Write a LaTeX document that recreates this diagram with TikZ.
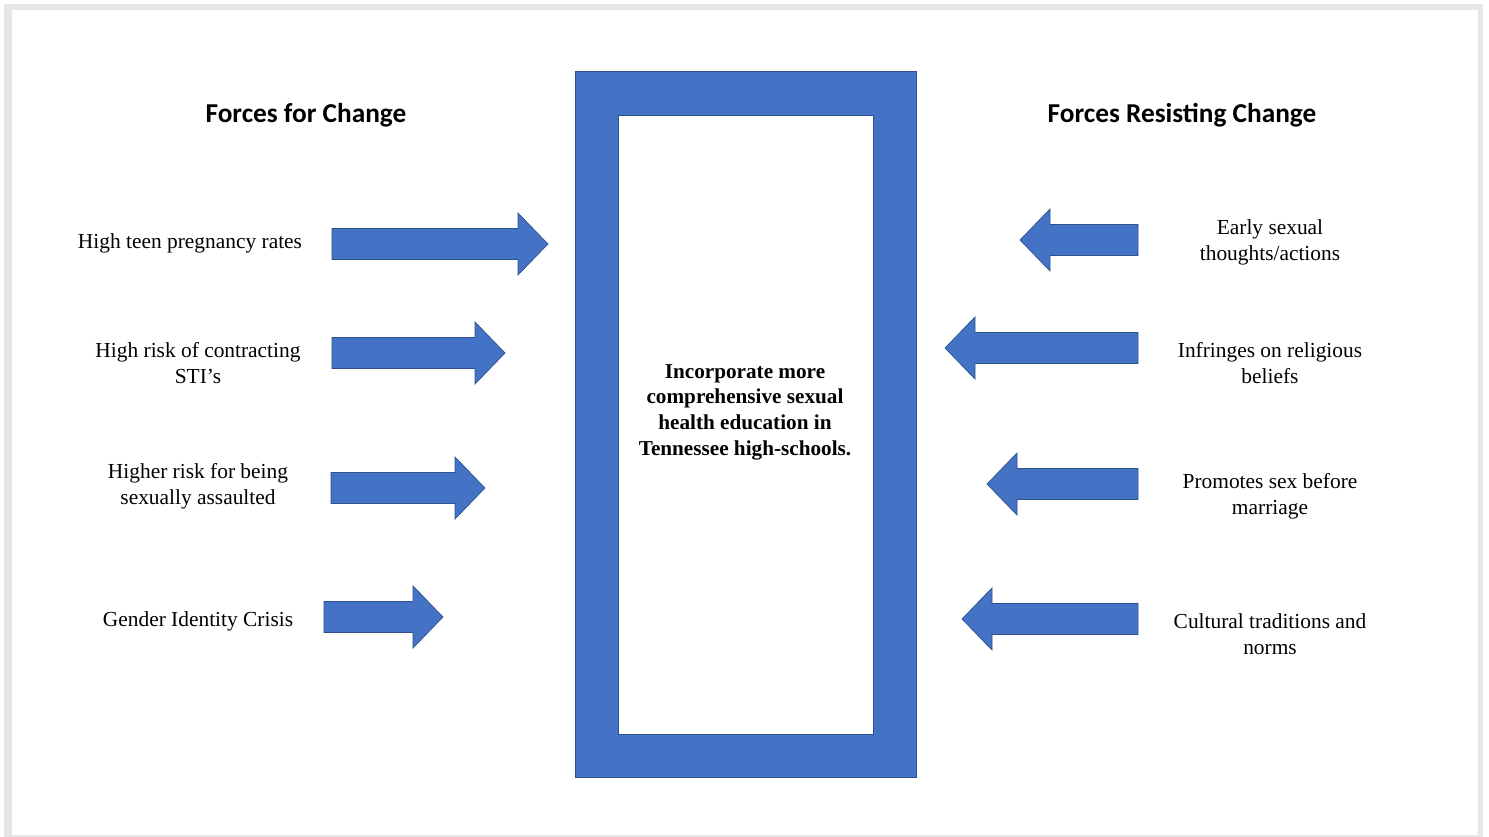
\documentclass[tikz,border=0pt]{standalone}
\usepackage{fontspec}
\setmainfont{Liberation Serif}
\newfontfamily\headfont{Carlito}

\definecolor{forceblue}{HTML}{4472C4}
\definecolor{forceedge}{HTML}{2F528F}
\definecolor{slidegray}{HTML}{E6E6E6}

\tikzset{
	force/.style={fill=forceblue, draw=forceedge, line width=0.7pt, line join=miter},
	forcelabel/.style={align=center, font=\fontsize{21.4}{26}\selectfont},
	heading/.style={font=\headfont\bfseries\fontsize{27.3}{32}\selectfont},
}

% block arrow: start x, tip x, centre y
\newcommand{\pushright}[3]{%
	\draw[force] (#1,#3-15.5) -- (#2-30,#3-15.5) -- (#2-30,#3-31) -- (#2,#3)
		-- (#2-30,#3+31) -- (#2-30,#3+15.5) -- (#1,#3+15.5) -- cycle;}
\newcommand{\pushleft}[3]{%
	\draw[force] (#1,#3-15.5) -- (#2+30,#3-15.5) -- (#2+30,#3-31) -- (#2,#3)
		-- (#2+30,#3+31) -- (#2+30,#3+15.5) -- (#1,#3+15.5) -- cycle;}

\begin{document}
\begin{tikzpicture}[x=1pt, y=-1pt]
	\useasboundingbox (0,0) rectangle (1489,837);
	
	% slide
	\fill[slidegray] (4,4) rectangle (1483,837);
	\fill[white] (12,10) rectangle (1478,835);
	
	% headings
	\node[heading] (forfor) at (306,115) {Forces for Change};
	\node[heading] (against) at (1182,115) {Forces Resisting Change};
	
	% goal
	\draw[force] (575,71) rectangle (916,777);
	\draw[fill=white, draw=forceedge, line width=0.7pt] (618,115) rectangle (873,734);
	\node[forcelabel, font=\bfseries\fontsize{21.2}{25.7}\selectfont] (goal) at (745,412)
		{Incorporate more\\comprehensive sexual\\health education in\\Tennessee high-schools.};
	
	% forces for change
	\node[forcelabel] (pregnancy) at (190,243) {High teen pregnancy rates};
	\node[forcelabel] (sti) at (198,363) {High risk of contracting\\STI’s};
	\node[forcelabel] (assault) at (198,486) {Higher risk for being\\sexually assaulted};
	\node[forcelabel] (identity) at (198,621) {Gender Identity Crisis};
	
	\pushright{332}{548}{244}
	\pushright{332}{505}{353}
	\pushright{331}{485}{488}
	\pushright{324}{443}{617}
	
	% forces resisting change
	\node[forcelabel] (early) at (1270,242) {Early sexual\\thoughts/actions};
	\node[forcelabel] (religion) at (1270,363) {Infringes on religious\\beliefs};
	\node[forcelabel] (marriage) at (1270,496) {Promotes sex before\\marriage};
	\node[forcelabel] (culture) at (1270,634) {Cultural traditions and\\norms};
	
	\pushleft{1138}{1020}{240}
	\pushleft{1138}{945}{348}
	\pushleft{1138}{987}{484}
	\pushleft{1138}{962}{619}
	
\end{tikzpicture}
\end{document}
